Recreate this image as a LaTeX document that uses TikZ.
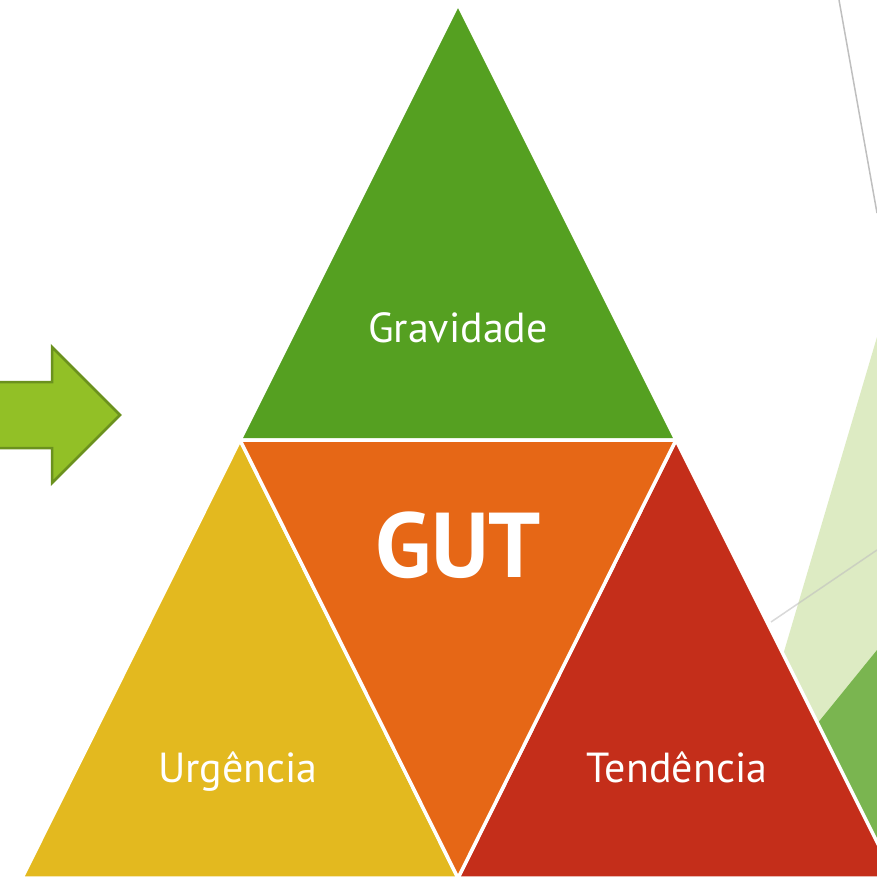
\documentclass[tikz,border=0pt]{standalone}
\usepackage{fontspec}
\setmainfont{PT Sans}
\usetikzlibrary{calc}

\definecolor{gravColor}{RGB}{85,160,33}
\definecolor{gutColor}{RGB}{230,103,22}
\definecolor{urgColor}{RGB}{227,185,31}
\definecolor{tendColor}{RGB}{196,46,26}
\definecolor{arrowFill}{RGB}{146,192,38}
\definecolor{arrowLine}{RGB}{107,145,30}
\definecolor{bgLight}{RGB}{221,235,195}
\definecolor{bgDark}{RGB}{122,181,80}
\definecolor{bgLine}{RGB}{191,191,191}

\tikzset{
    tri/.style={draw=white, line width=3.5pt, line join=miter},
    label/.style={text=white, anchor=base, inner sep=0pt, font=\fontsize{42}{42}\selectfont},
}

\begin{document}
\begin{tikzpicture}[x=1pt, y=-1pt]
    \useasboundingbox (0,0) rectangle (877,879);
    \clip (0,0) rectangle (877,879);
    %corners
    \coordinate (top) at (458,4);
    \coordinate (midL) at (240,440);
    \coordinate (midR) at (676,440);
    \coordinate (botL) at (22,878);
    \coordinate (botM) at (458,878);
    \coordinate (botR) at (895,878);
    %background right
    \draw[bgLine, line width=1.5pt] (839,0) -- (877,213);
    \fill[bgLight] (877,337) -- (783,655) -- (877,850) -- cycle;
    \fill[bgDark] (808,735) -- (877,650) -- (877,879) -- cycle;
    \draw[bgLine, line width=1.5pt, opacity=0.6] (771,622) -- (877,550);
    %Arrow
    \draw[fill=arrowFill, draw=arrowLine, line width=2.5pt, line join=miter] (-5,382) -- (52,382) -- (52,347) -- (120,415) -- (52,483) -- (52,448) -- (-5,448) -- cycle;
    %Gravidade
    \filldraw[tri, fill=gravColor] (top) -- (midL) -- (midR) -- cycle;
    %Urgencia
    \filldraw[tri, fill=urgColor] (midL) -- (botL) -- (botM) -- cycle;
    %Tendencia
    \filldraw[tri, fill=tendColor] (midR) -- (botM) -- (botR) -- cycle;
    %GUT
    \filldraw[tri, fill=gutColor] (midL) -- (midR) -- (botM) -- cycle;

    \node[label] (grav) at (458,342) {Gravidade};
    \node[label, font=\fontsize{92}{92}\selectfont\bfseries] (gut) at (458,577) {GUT};
    \node[label] (urg) at (238,782) {Urgência};
    \node[label] (tend) at (677,782) {Tendência};
\end{tikzpicture}
\end{document}
